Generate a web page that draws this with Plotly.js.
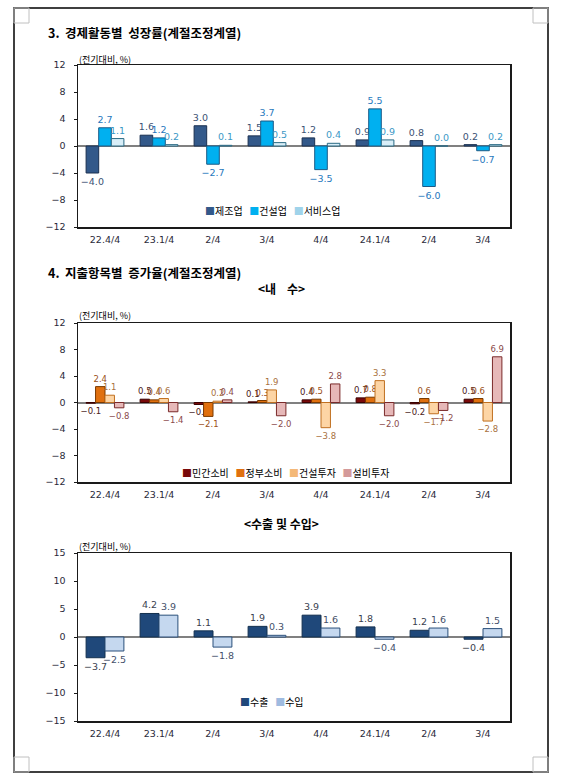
<!DOCTYPE html>
<html>
<head>
<meta charset="utf-8">
<script src="https://cdn.plot.ly/plotly-3.0.1.min.js"></script>
<style>
  html, body { margin: 0; padding: 0; background: #fff; }
  #page { width: 566px; height: 781px; }
</style>
</head>
<body>
<div id="page"></div>
<script>
// x categories (labels repeat, so plot on index and relabel)
var quarters = ['22.4/4', '23.1/4', '2/4', '3/4', '4/4', '24.1/4', '2/4', '3/4'];

// 3. 경제활동별 성장률
var names1 = ['제조업', '건설업', '서비스업'];
var manufacturing = [-4.0, 1.6, 3.0, 1.5, 1.2, 0.9, 0.8, 0.2];
var construction = [2.7, 1.2, -2.7, 3.7, -3.5, 5.5, -6.0, -0.7];
var services = [1.1, 0.2, 0.1, 0.5, 0.4, 0.9, 0.0, 0.2];

// 4. 지출항목별 증가율 <내 수>
var names2 = ['민간소비', '정부소비', '건설투자', '설비투자'];
var privCons = [-0.1, 0.5, -0.3, 0.1, 0.4, 0.7, -0.2, 0.5];
var govCons = [2.4, 0.4, -2.1, 0.3, 0.5, 0.8, 0.6, 0.6];
var constInv = [1.1, 0.6, 0.2, 1.9, -3.8, 3.3, -1.7, -2.8];
var equipInv = [-0.8, -1.4, 0.4, -2.0, 2.8, -2.0, -1.2, 6.9];

// <수출 및 수입>
var names3 = ['수출', '수입'];
var exportsQ = [-3.7, 4.2, 1.1, 1.9, 3.9, 1.8, 1.2, -0.4];
var importsQ = [-2.5, 3.9, -1.8, 0.3, 1.6, -0.4, 1.6, 1.5];

var W = 566, H = 781;
function px(x) { return x / W; }
function py(y) { return 1 - y / H; }

var idx = quarters.map(function (q, i) { return i; });
var numFont = 'DejaVu Sans';
var krFont = '"Noto Sans CJK KR", "Noto Sans", sans-serif';

function bars(name, vals, fill, line, txt, xa, ya, fs) {
    return {
        type: 'bar', name: name, x: idx, y: vals,
        xaxis: xa, yaxis: ya,
        marker: { color: fill, line: { color: line, width: 1 } },
        text: vals.map(function (v) { return v.toFixed(1).replace('-', '\u2212'); }),
        textposition: 'outside',
        constraintext: 'none',
        cliponaxis: false,
        textfont: { family: numFont, size: fs || 9.5, color: txt },
        showlegend: false,
        hoverinfo: 'skip'
    };
}

var data = [
    bars(names1[0], manufacturing, '#33598a', '#1b3050', '#3b5274', 'x', 'y'),
    bars(names1[1], construction, '#00b0f0', '#1c5a86', '#1f78bd', 'x', 'y'),
    bars(names1[2], services, '#d8eef8', '#2a6a84', '#3c98c6', 'x', 'y'),
    bars(names2[0], privCons, '#7a0a0a', '#3a0000', '#4a2020', 'x2', 'y2', 8.5),
    bars(names2[1], govCons, '#e0700f', '#7a3a00', '#9a5020', 'x2', 'y2', 8.5),
    bars(names2[2], constInv, '#fdd5a5', '#c07020', '#a87040', 'x2', 'y2', 8.5),
    bars(names2[3], equipInv, '#e6b8b8', '#7a2a2a', '#8a4a4a', 'x2', 'y2', 8.5),
    bars(names3[0], exportsQ, '#1f487a', '#13304f', '#3a3f4f', 'x3', 'y3'),
    bars(names3[1], importsQ, '#c5d8ef', '#2a4f7a', '#44506a', 'x3', 'y3')
];

function xAxis(anchor) {
    return {
        domain: [px(78), px(510)],
        anchor: anchor,
        range: [-0.5, quarters.length - 0.5],
        tickvals: idx, ticktext: quarters,
        showline: true, mirror: true, linecolor: '#1a1a1a', linewidth: 1.5,
        ticks: '', showgrid: false, zeroline: false,
        ticklabelstandoff: 3,
        tickfont: { family: numFont, size: 9.5, color: '#2a2a3a' },
        fixedrange: true
    };
}
function yAxis(top, bottom, anchor, lim, step) {
    return {
        domain: [py(bottom), py(top)],
        anchor: anchor,
        range: [-lim, lim], dtick: step, tick0: 0,
        showline: true, mirror: true, linecolor: '#1a1a1a', linewidth: 1.5,
        ticks: 'outside', ticklen: 3, tickcolor: '#1a1a1a',
        showgrid: false,
        zeroline: true, zerolinecolor: '#808080', zerolinewidth: 2,
        ticklabelstandoff: 6,
        tickfont: { family: numFont, size: 9.5, color: '#2a2a3a' },
        fixedrange: true
    };
}

function legendText(names, colors) {
    return names.map(function (n, i) {
        return '<span style="color:' + colors[i] + '">\u25A0</span>' + n;
    }).join('   ');
}

function note(text, x, y, size, bold, anchor) {
    return {
        text: bold ? '<b>' + text + '</b>' : text,
        xref: 'paper', yref: 'paper', x: px(x), y: py(y),
        xanchor: anchor || 'left', yanchor: 'middle',
        showarrow: false,
        font: { family: krFont, size: size, color: '#000' }
    };
}

var annotations = [
    note('3.  경제활동별  성장률(계절조정계열)', 46, 33, 12.5, true),
    note('4.  지출항목별  증가율(계절조정계열)', 46, 273, 12.5, true),
    note('&lt;내    수&gt;', 281, 289, 12, true, 'center'),
    note('&lt;수출 및 수입&gt;', 281, 523, 12, true, 'center'),
    note('(전기대비, %)', 77, 59, 9, false),
    note('(전기대비, %)', 77, 316, 9, false),
    note('(전기대비, %)', 77, 546, 9, false),
    note(legendText(names1, ['#33598a', '#00b0f0', '#9fd3ea']), 272, 211, 10, false, 'center'),
    note(legendText(names2, ['#7a0a0a', '#e0700f', '#f4b878', '#d49a9a']), 285, 472, 10, false, 'center'),
    note(legendText(names3, ['#1f487a', '#9fbbe0']), 272, 701, 10, false, 'center')
];

function rect(x0, y0, x1, y1, color, width) {
    return {
        type: 'rect', xref: 'paper', yref: 'paper',
        x0: px(x0), x1: px(x1), y0: py(y0), y1: py(y1),
        line: { color: color, width: width }, fillcolor: 'rgba(0,0,0,0)'
    };
}

var shapes = [
    rect(14, 8, 548, 772, '#000', 1.5),
    rect(14, 8, 29, 23, '#c0c0c0', 1),
    rect(533, 8, 548, 23, '#c0c0c0', 1),
    rect(14, 757, 29, 772, '#c0c0c0', 1),
    rect(533, 757, 548, 772, '#c0c0c0', 1)
];

var layout = {
    width: W, height: H,
    margin: { l: 0, r: 0, t: 0, b: 0 },
    paper_bgcolor: '#fff', plot_bgcolor: '#fff',
    barmode: 'group', bargap: 0.3, bargroupgap: 0,
    showlegend: false,
    xaxis: xAxis('y'),
    yaxis: yAxis(65, 227, 'x', 12, 4),
    xaxis2: xAxis('y2'),
    yaxis2: yAxis(323, 482, 'x2', 12, 4),
    xaxis3: xAxis('y3'),
    yaxis3: yAxis(553, 721, 'x3', 15, 5),
    annotations: annotations,
    shapes: shapes
};

Plotly.newPlot('page', data, layout, { displayModeBar: false, staticPlot: true });
</script>
</body>
</html>
